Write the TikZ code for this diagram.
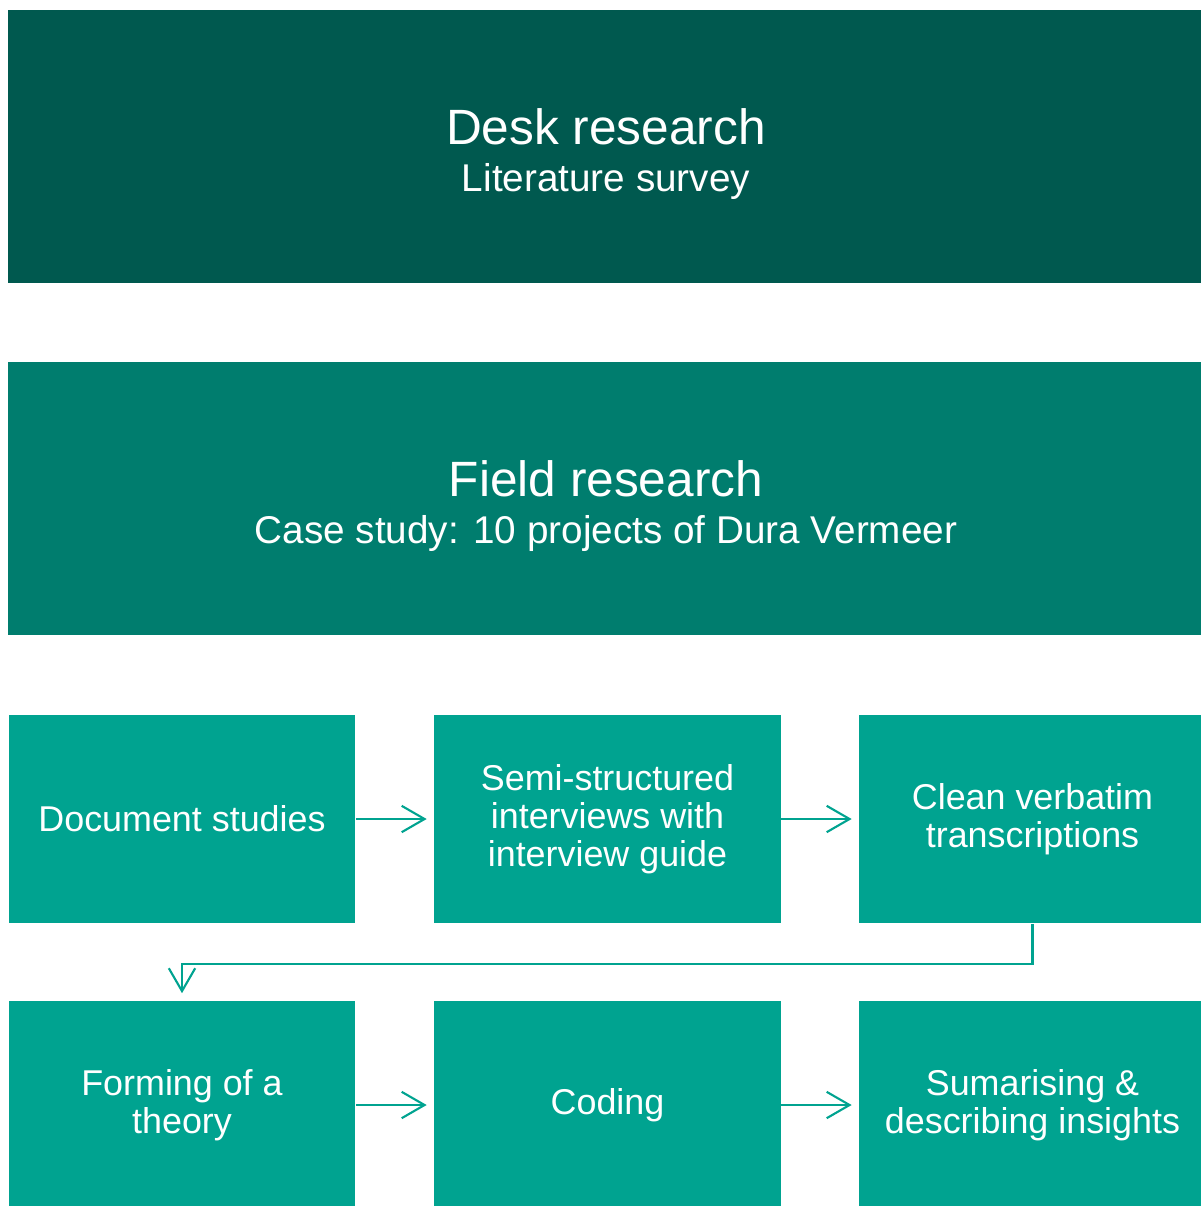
\documentclass[tikz,border=0pt]{standalone}
\usepackage{fontspec}
\setmainfont{Liberation Sans}
\usetikzlibrary{arrows.meta}
\definecolor{deskgreen}{RGB}{0,89,79}
\definecolor{fieldgreen}{RGB}{0,125,110}
\definecolor{stepgreen}{RGB}{0,163,144}
\begin{document}
\begin{tikzpicture}[x=0.01cm,y=-0.01cm,
  band/.style={rectangle, inner sep=0pt, minimum width=11.96cm, minimum height=2.73cm},
  headtext/.style={inner sep=0pt, text=white, align=center,
    font=\fontsize{14.1}{13.6}\selectfont},
  stepbox/.style={rectangle, fill=stepgreen, inner sep=0pt, minimum width=3.46cm,
    minimum height=2.08cm, text=white, align=center, font=\fontsize{10.2}{10.85}\selectfont},
  flow/.style={draw=stepgreen, line width=0.6pt, shorten >=2pt,
    -{Straight Barb[length=6.5pt,width=7.5pt]}}]
  \useasboundingbox (0,0) rectangle (1201,1206);
  \clip (0,0) rectangle (1201,1206);

  % research phases
  \node[band, fill=deskgreen] (desk) at (606,146.5) {};
  \node[headtext] (desktext) at (606,154)
    {Desk research\\{\fontsize{11}{13.6}\selectfont Literature survey}};
  \node[band, fill=fieldgreen] (field) at (606,498.5) {};
  \node[headtext] (fieldtext) at (606,506)
    {Field research\\{\fontsize{11}{13.6}\selectfont Case study: 10 projects of Dura Vermeer}};

  % field research steps
  \node[stepbox] (doc) at (182,819) {Document studies};
  \node[stepbox] (semi) at (607.5,819) {Semi-structured\\interviews with\\interview guide};
  \node[stepbox] (clean) at (1032.5,819) {Clean verbatim\\transcriptions};
  \node[stepbox] (theory) at (182,1105) {Forming of a\\theory};
  \node[stepbox] (coding) at (607.5,1105) {Coding};
  \node[stepbox] (summ) at (1032.5,1105) {Sumarising \&\\describing insights};

  % flow between steps
  \draw[flow] (doc) -- (semi);
  \draw[flow] (semi) -- (clean);
  \draw[flow] (clean.south) -- ++(0,40) -| (theory.north);
  \draw[flow] (theory) -- (coding);
  \draw[flow] (coding) -- (summ);
\end{tikzpicture}
\end{document}
